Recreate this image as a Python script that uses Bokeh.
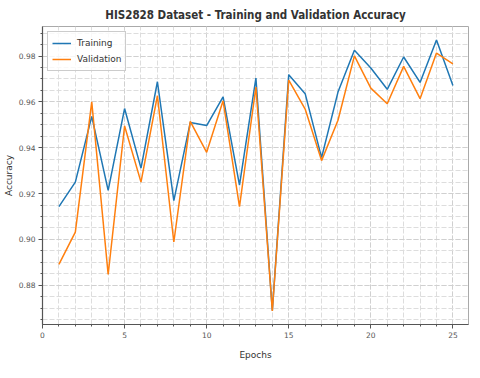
from bokeh.plotting import figure
from bokeh.models import Range1d, SingleIntervalTicker, NumeralTickFormatter, Legend, LegendItem
from bokeh.embed import file_html
from bokeh.resources import INLINE

epochs = list(range(1, 26))
training = [0.9143, 0.9250, 0.9537, 0.9214, 0.9571, 0.9311, 0.9688, 0.9169, 0.9510, 0.9497,
            0.9622, 0.9237, 0.9704, 0.8690, 0.9719, 0.9636, 0.9357, 0.9643, 0.9825, 0.9748,
            0.9655, 0.9796, 0.9685, 0.9870, 0.9672]
validation = [0.8891, 0.9032, 0.9600, 0.8847, 0.9495, 0.9250, 0.9627, 0.8989, 0.9515, 0.9380,
              0.9605, 0.9143, 0.9665, 0.8688, 0.9695, 0.9569, 0.9344, 0.9520, 0.9801, 0.9660,
              0.9592, 0.9755, 0.9614, 0.9813, 0.9766]

p = figure(width=472, height=362, output_backend="svg", toolbar_location=None,
           x_range=Range1d(0, 25.95), y_range=Range1d(0.8629, 0.9929),
           min_border_left=35, min_border_right=4, min_border_top=22, min_border_bottom=36)

p.title.text = "HIS2828 Dataset - Training and Validation Accuracy"
p.title.align = "center"
p.title.text_font = "DejaVu Sans Condensed"
p.title.text_font_style = "bold"
p.title.text_font_size = "11.5px"
p.title.text_color = "#333333"

p.outline_line_color = "#aaaaaa"
p.outline_line_width = 1

r1 = p.line(epochs, training, line_color="#1f77b4", line_width=1.5)
r2 = p.line(epochs, validation, line_color="#ff7f0e", line_width=1.5)

p.xaxis.ticker = SingleIntervalTicker(interval=5, num_minor_ticks=5)
p.yaxis.ticker = SingleIntervalTicker(interval=0.02, num_minor_ticks=4)
p.yaxis.formatter = NumeralTickFormatter(format="0.00")

for ax in (p.xaxis[0], p.yaxis[0]):
    ax.axis_line_color = "#555555"
    ax.axis_line_width = 1.2
    ax.major_tick_line_color = "#555555"
    ax.minor_tick_line_color = "#555555"
    ax.major_tick_out = 4
    ax.major_tick_in = 0
    ax.minor_tick_out = 2
    ax.minor_tick_in = 0
    ax.major_label_text_font = "DejaVu Sans"
    ax.major_label_text_font_size = "7.5px"
    ax.major_label_text_color = "#555555"
    ax.major_label_standoff = 3
    ax.axis_label_text_font = "DejaVu Sans"
    ax.axis_label_text_font_size = "9px"
    ax.axis_label_text_font_style = "normal"
    ax.axis_label_text_color = "#333333"

p.xaxis.axis_label = "Epochs"
p.yaxis.axis_label = "Accuracy"
p.xaxis.axis_label_standoff = 9
p.yaxis.axis_label_standoff = 2

for g in (p.xgrid[0], p.ygrid[0]):
    g.grid_line_color = "#d0d0d0"
    g.grid_line_dash = "5 2"
    g.grid_line_width = 1
    g.minor_grid_line_color = "#dddddd"
    g.minor_grid_line_dash = "5 2"
    g.minor_grid_line_width = 1

legend = Legend(items=[LegendItem(label="Training", renderers=[r1]),
                       LegendItem(label="Validation", renderers=[r2])],
                location="top_left")
legend.label_text_font = "DejaVu Sans"
legend.label_text_font_size = "9px"
legend.label_text_color = "#333333"
legend.border_line_color = "#cccccc"
legend.border_line_alpha = 1
legend.background_fill_alpha = 0.8
legend.glyph_width = 19
legend.glyph_height = 14
legend.label_height = 14
legend.spacing = 2
legend.padding = 4
legend.margin = 5
legend.label_standoff = 6
p.add_layout(legend)

open("out.html", "w").write(file_html(p, INLINE))
